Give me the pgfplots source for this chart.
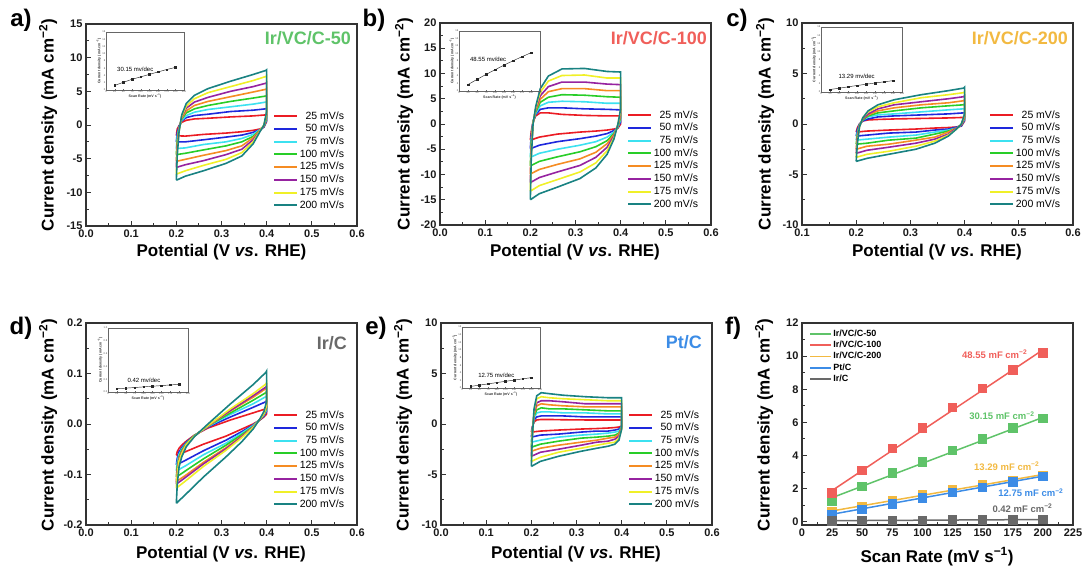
\documentclass[border=0pt]{standalone}
\usepackage{fontspec}
\setmainfont{Liberation Sans}
\usepackage{pgfplots}
\usepackage{pgfplotstable}
\pgfplotsset{compat=1.18}

\definecolor{c1}{RGB}{235,28,36}
\definecolor{c2}{RGB}{30,40,220}
\definecolor{c3}{RGB}{60,225,240}
\definecolor{c4}{RGB}{40,205,40}
\definecolor{c5}{RGB}{245,140,35}
\definecolor{c6}{RGB}{150,35,160}
\definecolor{c7}{RGB}{240,240,40}
\definecolor{c8}{RGB}{25,130,130}
\definecolor{tg}{RGB}{95,195,105}
\definecolor{tr}{RGB}{240,95,90}
\definecolor{ty}{RGB}{242,185,65}
\definecolor{tk}{RGB}{105,105,105}
\definecolor{tb}{RGB}{60,140,230}

\pgfplotstableread{
x y1 y2 y3 y4 y5 y6 y7 y8
0.200 -1.6 -2.5 -3.5 -4.4 -5.4 -6.3 -7.3 -8.2
0.202 -0.6 -1.2 -1.7 -2.3 -2.8 -3.4 -3.9 -4.5
0.206 -0.1 -0.2 -0.4 -0.5 -0.6 -0.7 -0.9 -1.0
0.212 0.4 0.6 0.7 0.9 1.0 1.2 1.3 1.5
0.222 0.7 1.1 1.4 1.8 2.1 2.5 2.8 3.2
0.240 0.9 1.4 1.9 2.4 2.9 3.4 3.9 4.4
0.270 1.0 1.6 2.3 2.9 3.5 4.1 4.8 5.4
0.320 1.2 2.0 2.7 3.5 4.2 5.0 5.7 6.5
0.370 1.35 2.2 3.1 4.0 4.9 5.7 6.6 7.5
0.398 1.5 2.4 3.4 4.3 5.3 6.2 7.2 8.1
0.400 1.6 2.5 3.5 4.4 5.4 6.3 7.3 8.2
0.400 0.5 0.7 0.9 1.1 1.4 1.6 1.8 2.0
0.394 -0.3 -0.3 -0.2 -0.2 -0.1 -0.1 0.0 0.0
0.385 -0.6 -0.7 -0.7 -0.8 -0.8 -0.9 -0.9 -1.0
0.370 -0.8 -1.1 -1.4 -1.7 -1.9 -2.2 -2.5 -2.8
0.345 -1.0 -1.5 -2.0 -2.5 -3.1 -3.6 -4.1 -4.6
0.310 -1.2 -1.8 -2.5 -3.1 -3.8 -4.4 -5.1 -5.7
0.260 -1.4 -2.2 -2.9 -3.7 -4.5 -5.3 -6.0 -6.8
0.220 -1.65 -2.5 -3.4 -4.2 -5.1 -5.9 -6.8 -7.6
0.200 -1.6 -2.5 -3.5 -4.4 -5.4 -6.3 -7.3 -8.2
}\tabA

\pgfplotstableread{
x y1 y2 y3 y4 y5 y6 y7 y8
0.200 -3.2 -4.9 -6.6 -8.3 -9.9 -11.6 -13.3 -15.0
0.202 -1.5 -2.3 -3.1 -3.9 -4.6 -5.4 -6.2 -7.0
0.206 0.5 0.4 0.4 0.3 0.2 0.1 0.1 0.0
0.212 1.6 1.9 2.1 2.4 2.7 3.0 3.2 3.5
0.222 2.2 2.9 3.6 4.3 4.9 5.6 6.3 7.0
0.240 2.2 3.2 4.3 5.3 6.4 7.4 8.5 9.5
0.270 1.9 3.2 4.5 5.8 7.0 8.3 9.6 10.9
0.320 1.7 3.0 4.4 5.7 7.0 8.3 9.7 11.0
0.370 1.6 2.9 4.1 5.4 6.6 7.9 9.1 10.4
0.398 1.6 2.8 4.1 5.3 6.6 7.8 9.1 10.3
0.400 1.6 2.8 4.1 5.3 6.6 7.8 9.1 10.3
0.400 0.0 0.4 0.9 1.3 1.7 2.1 2.6 3.0
0.394 -0.8 -0.7 -0.6 -0.5 -0.3 -0.2 -0.1 0.0
0.385 -1.0 -1.3 -1.6 -1.9 -2.1 -2.4 -2.7 -3.0
0.370 -1.2 -1.9 -2.6 -3.3 -3.9 -4.6 -5.3 -6.0
0.345 -1.4 -2.4 -3.5 -4.5 -5.6 -6.6 -7.7 -8.7
0.310 -1.6 -2.9 -4.2 -5.5 -6.9 -8.2 -9.5 -10.8
0.260 -2.0 -3.5 -5.0 -6.5 -8.0 -9.5 -11.0 -12.5
0.220 -2.6 -4.2 -5.8 -7.4 -9.0 -10.6 -12.2 -13.8
0.200 -3.2 -4.9 -6.6 -8.3 -9.9 -11.6 -13.3 -15.0
}\tabB

\pgfplotstableread{
x y1 y2 y3 y4 y5 y6 y7 y8
0.200 -0.8 -1.2 -1.6 -2.0 -2.5 -2.9 -3.3 -3.7
0.202 -0.4 -0.6 -0.9 -1.1 -1.3 -1.5 -1.8 -2.0
0.206 0.0 0.0 -0.1 -0.1 -0.2 -0.2 -0.3 -0.3
0.212 0.3 0.3 0.4 0.4 0.5 0.5 0.6 0.6
0.222 0.4 0.5 0.7 0.8 0.9 1.0 1.2 1.3
0.240 0.45 0.7 0.9 1.1 1.3 1.5 1.7 1.9
0.270 0.5 0.8 1.0 1.3 1.6 1.9 2.1 2.4
0.320 0.55 0.9 1.2 1.6 1.9 2.2 2.6 2.9
0.370 0.6 1.0 1.4 1.8 2.1 2.5 2.9 3.3
0.398 0.65 1.1 1.5 1.9 2.3 2.7 3.1 3.55
0.400 0.7 1.1 1.5 2.0 2.4 2.8 3.2 3.65
0.400 0.3 0.4 0.5 0.6 0.7 0.8 0.9 1.0
0.394 -0.2 -0.2 -0.1 -0.1 -0.1 -0.1 0.0 0.0
0.385 -0.3 -0.3 -0.4 -0.4 -0.4 -0.4 -0.5 -0.5
0.370 -0.35 -0.5 -0.6 -0.7 -0.8 -1.0 -1.1 -1.2
0.345 -0.4 -0.6 -0.8 -1.0 -1.3 -1.5 -1.7 -1.9
0.310 -0.5 -0.8 -1.1 -1.4 -1.6 -1.9 -2.2 -2.5
0.260 -0.6 -0.9 -1.3 -1.6 -2.0 -2.3 -2.7 -3.0
0.220 -0.7 -1.1 -1.5 -1.9 -2.2 -2.6 -3.0 -3.4
0.200 -0.8 -1.2 -1.6 -2.0 -2.5 -2.9 -3.3 -3.7
}\tabC

\pgfplotstableread{
x y1 y2 y3 y4 y5 y6 y7 y8
0.200 -0.062 -0.081 -0.093 -0.105 -0.114 -0.119 -0.127 -0.157
0.202 -0.055 -0.068 -0.076 -0.084 -0.091 -0.094 -0.099 -0.120
0.206 -0.048 -0.055 -0.060 -0.065 -0.068 -0.070 -0.073 -0.085
0.212 -0.042 -0.047 -0.050 -0.052 -0.055 -0.056 -0.058 -0.065
0.222 -0.034 -0.036 -0.038 -0.039 -0.040 -0.041 -0.041 -0.045
0.240 -0.022 -0.023 -0.023 -0.023 -0.024 -0.024 -0.024 -0.025
0.270 -0.008 -0.006 -0.005 -0.004 -0.004 -0.003 -0.003 0.000
0.320 0.008 0.014 0.019 0.022 0.026 0.027 0.030 0.040
0.370 0.022 0.033 0.040 0.047 0.053 0.056 0.060 0.078
0.398 0.030 0.044 0.054 0.062 0.070 0.073 0.079 0.102
0.400 0.032 0.047 0.056 0.065 0.072 0.076 0.082 0.105
0.400 0.020 0.025 0.028 0.031 0.034 0.035 0.037 0.045
0.394 0.014 0.016 0.018 0.019 0.020 0.021 0.021 0.025
0.385 0.008 0.008 0.009 0.009 0.009 0.009 0.009 0.010
0.370 0.000 -0.002 -0.003 -0.005 -0.006 -0.006 -0.007 -0.010
0.345 -0.010 -0.015 -0.018 -0.021 -0.024 -0.025 -0.027 -0.035
0.310 -0.024 -0.032 -0.038 -0.042 -0.047 -0.049 -0.052 -0.065
0.260 -0.040 -0.053 -0.061 -0.069 -0.076 -0.079 -0.084 -0.105
0.220 -0.055 -0.072 -0.083 -0.093 -0.102 -0.106 -0.113 -0.140
0.200 -0.062 -0.081 -0.093 -0.105 -0.114 -0.119 -0.127 -0.157
}\tabD

\pgfplotstableread{
x y1 y2 y3 y4 y5 y6 y7 y8
0.200 -0.8 -1.3 -1.8 -2.3 -2.7 -3.2 -3.7 -4.2
0.202 -0.3 -0.5 -0.6 -0.8 -1.0 -1.2 -1.3 -1.5
0.206 0.2 0.4 0.6 0.8 0.9 1.1 1.3 1.5
0.212 0.4 0.7 1.1 1.4 1.8 2.1 2.5 2.8
0.222 0.45 0.8 1.2 1.6 2.0 2.3 2.7 3.1
0.240 0.45 0.8 1.2 1.5 1.9 2.3 2.6 3.0
0.270 0.42 0.8 1.1 1.5 1.8 2.2 2.5 2.85
0.320 0.4 0.7 1.1 1.4 1.7 2.0 2.4 2.7
0.370 0.4 0.7 1.0 1.3 1.7 2.0 2.3 2.6
0.398 0.4 0.7 1.0 1.3 1.7 2.0 2.3 2.6
0.400 0.4 0.7 1.0 1.3 1.7 2.0 2.3 2.6
0.400 -0.2 -0.2 -0.3 -0.3 -0.4 -0.4 -0.5 -0.5
0.394 -0.3 -0.5 -0.7 -0.9 -1.0 -1.2 -1.4 -1.6
0.385 -0.35 -0.6 -0.8 -1.1 -1.3 -1.5 -1.8 -2.0
0.370 -0.4 -0.7 -0.9 -1.2 -1.4 -1.7 -1.9 -2.2
0.345 -0.45 -0.7 -1.0 -1.3 -1.6 -1.8 -2.1 -2.4
0.310 -0.5 -0.8 -1.1 -1.4 -1.8 -2.1 -2.4 -2.7
0.260 -0.6 -1.0 -1.3 -1.7 -2.1 -2.5 -2.8 -3.2
0.220 -0.7 -1.1 -1.6 -2.0 -2.4 -2.8 -3.3 -3.7
0.200 -0.8 -1.3 -1.8 -2.3 -2.7 -3.2 -3.7 -4.2
}\tabE

\pgfplotsset{
  base/.style={scale only axis, width=271pt, height=202pt, anchor=north west,
    axis line style={line width=1.1pt, black!80},
    tick align=inside, xtick pos=left, ytick pos=left,
    major tick length=5pt, minor tick length=3pt,
    every tick/.style={black!80, line width=0.9pt},
    tick label style={font=\bfseries\fontsize{11}{13}\selectfont, text=black!90},
    minor x tick num=1, minor y tick num=1},
  cv/.style={base, xmin=0, xmax=0.6,
    xtick={0,0.1,0.2,0.3,0.4,0.5,0.6}, xticklabels={0.0,0.1,0.2,0.3,0.4,0.5,0.6},
    legend cell align=right,
    legend style={at={(0.97,0.585)}, anchor=north east, draw=none, fill=none,
      font=\fontsize{10.5}{10.5}\selectfont,
      nodes={text height=7.6pt, text depth=2.1pt, inner sep=1.5pt}, row sep=0pt},
    legend image code/.code={\draw[#1, line width=2pt] (0pt,0pt) -- (23pt,0pt);},
    every axis plot/.append style={line width=1.6pt}},
  inset/.style={scale only axis, anchor=north west, xmin=0, xmax=225, ymin=0,
    axis line style={line width=0.4pt, black!60},
    tick align=inside, xtick pos=left, ytick pos=left,
    xtick={0,25,50,75,100,125,150,175,200,225},
    major tick length=1.2pt, every tick/.style={line width=0.3pt, black!60},
    /pgf/number format/assume math mode=true,
    tick label style={font=\fontsize{2.6}{3}\selectfont, inner sep=0.5pt, text=black!70},
    xlabel={Scan Rate (mV s\textsuperscript{−1})},
    ylabel={Current density (mA cm\textsuperscript{−2})},
    label style={font=\bfseries\fontsize{3.6}{4}\selectfont, inner sep=0.5pt, text=black!80}},
  insetplot/.style={black!85, line width=0.45pt, mark=square*, mark size=0.75pt,
    mark options={fill=black!85, draw=black!85}},
}

\newcommand{\cvplots}[1]{%
  \addplot[c1] table[x=x,y=y1]{#1};
  \addplot[c2] table[x=x,y=y2]{#1};
  \addplot[c3] table[x=x,y=y3]{#1};
  \addplot[c4] table[x=x,y=y4]{#1};
  \addplot[c5] table[x=x,y=y5]{#1};
  \addplot[c6] table[x=x,y=y6]{#1};
  \addplot[c7] table[x=x,y=y7]{#1};
  \addplot[c8] table[x=x,y=y8]{#1};
  \legend{25 mV/s,50 mV/s,75 mV/s,100 mV/s,125 mV/s,150 mV/s,175 mV/s,200 mV/s}}

\newcommand{\ylab}{\textbf{Current density (mA cm\textsuperscript{−2})}}
\newcommand{\xlab}{\textbf{Potential (V \textit{vs}. RHE)}}

\begin{document}
\begin{tikzpicture}
\useasboundingbox (0pt,0pt) rectangle (1084pt,568pt);

% ---------- a ----------
\begin{axis}[cv, at={(86pt,544pt)}, ymin=-15, ymax=15,
  ytick={-15,-10,-5,0,5,10,15}, yticklabels={-15,-10,-5,0,5,10,15}]
\cvplots{\tabA}
\end{axis}
\begin{axis}[inset, at={(106pt,536pt)}, width=78pt, height=58pt, ymax=16,
  ytick={0,2,4,6,8,10,12,14,16}]
\addplot[insetplot] coordinates {(25,1.25)(50,2.12)(75,2.95)(100,3.62)(125,4.3)(150,4.98)(175,5.65)(200,6.22)};
\node[font=\fontsize{6}{7}\selectfont] at (rel axis cs:0.375,0.36) {30.15 mv/dec};
\end{axis}

% ---------- b ----------
\begin{axis}[cv, at={(440pt,545pt)}, ymin=-20, ymax=20,
  ytick={-20,-15,-10,-5,0,5,10,15,20}, yticklabels={-20,-15,-10,-5,0,5,10,15,20}]
\cvplots{\tabB}
\end{axis}
\begin{axis}[inset, at={(459pt,537pt)}, width=81pt, height=60pt, ymax=16,
  ytick={0,2,4,6,8,10,12,14,16}]
\addplot[insetplot] coordinates {(25,1.72)(50,3.08)(75,4.42)(100,5.65)(125,6.9)(150,8.05)(175,9.15)(200,10.2)};
\node[font=\fontsize{6}{7}\selectfont] at (rel axis cs:0.36,0.53) {48.55 mv/dec};
\end{axis}

% ---------- c ----------
\begin{axis}[cv, at={(802pt,545pt)}, xmin=0.1, xtick={0.1,0.2,0.3,0.4,0.5,0.6},
  xticklabels={0.1,0.2,0.3,0.4,0.5,0.6}, ymin=-10, ymax=10,
  ytick={-10,-5,0,5,10}, yticklabels={-10,-5,0,5,10}]
\cvplots{\tabC}
\end{axis}
\begin{axis}[inset, at={(821pt,541pt)}, width=81pt, height=65pt, ymax=16,
  ytick={0,2,4,6,8,10,12,14,16}]
\addplot[insetplot] coordinates {(25,0.62)(50,0.92)(75,1.27)(100,1.6)(125,1.9)(150,2.22)(175,2.5)(200,2.8)};
\node[font=\fontsize{6}{7}\selectfont] at (rel axis cs:0.44,0.24) {13.29 mv/dec};
\end{axis}

% ---------- d ----------
\begin{axis}[cv, at={(86pt,245pt)}, ymin=-0.2, ymax=0.2,
  ytick={-0.2,-0.1,0,0.1,0.2}, yticklabels={-0.2,-0.1,0.0,0.1,0.2}]
\cvplots{\tabD}
\end{axis}
\begin{axis}[inset, at={(108pt,240pt)}, width=80pt, height=64pt, ymax=1,
  ytick={0,0.2,0.4,0.6,0.8,1.0},
  yticklabel style={/pgf/number format/.cd, fixed, fixed zerofill, precision=1}]
\addplot[insetplot] coordinates {(25,0.05)(50,0.06)(75,0.07)(100,0.08)(125,0.09)(150,0.1)(175,0.11)(200,0.12)};
\node[font=\fontsize{6}{7}\selectfont] at (rel axis cs:0.45,0.18) {0.42 mv/dec};
\end{axis}

% ---------- e ----------
\begin{axis}[cv, at={(441pt,245pt)}, ymin=-10, ymax=10,
  ytick={-10,-5,0,5,10}, yticklabels={-10,-5,0,5,10}]
\cvplots{\tabE}
\end{axis}
\begin{axis}[inset, at={(462pt,241pt)}, width=78pt, height=61pt, ymax=16,
  ytick={0,2,4,6,8,10,12,14,16}]
\addplot[insetplot] coordinates {(25,0.42)(50,0.75)(75,1.08)(100,1.42)(125,1.75)(150,2.07)(175,2.4)(200,2.72)};
\node[font=\fontsize{6}{7}\selectfont] at (rel axis cs:0.44,0.2) {12.75 mv/dec};
\end{axis}

% ---------- f ----------
\begin{axis}[base, at={(802pt,245pt)}, xmin=0, xmax=225, ymin=-0.2, ymax=12,
  xtick={0,25,50,75,100,125,150,175,200,225},
  xticklabels={0,25,50,75,100,125,150,175,200,225},
  ytick={0,2,4,6,8,10,12}, yticklabels={0,2,4,6,8,10,12},
  legend cell align=left,
  legend style={at={(0.015,0.985)}, anchor=north west, draw=none, fill=none,
    font=\bfseries\fontsize{9}{9}\selectfont,
    nodes={text height=6.8pt, text depth=2pt, inner sep=1.25pt}, row sep=0pt},
  legend image code/.code={\draw[#1, line width=1.8pt] (0pt,0pt) -- (21pt,0pt);},
  every axis plot/.append style={line width=1.5pt}]
\addplot[tg] coordinates {(25,1.45)(200,6.3)};
\addplot[tr] coordinates {(25,1.88)(200,10.38)};
\addplot[ty] coordinates {(25,0.65)(200,2.85)};
\addplot[tb] coordinates {(25,0.45)(200,2.75)};
\addplot[tk] coordinates {(25,0.06)(200,0.13)};
\legend{Ir/VC/C-50,Ir/VC/C-100,Ir/VC/C-200,Pt/C,Ir/C}
\addplot[tg, only marks, mark=square*, mark size=4pt, forget plot] coordinates {(25,1.25)(50,2.12)(75,2.95)(100,3.62)(125,4.3)(150,4.98)(175,5.65)(200,6.22)};
\addplot[tr, only marks, mark=square*, mark size=4pt, forget plot] coordinates {(25,1.72)(50,3.08)(75,4.42)(100,5.65)(125,6.9)(150,8.05)(175,9.15)(200,10.2)};
\addplot[ty, only marks, mark=square*, mark size=4pt, forget plot] coordinates {(25,0.62)(50,0.92)(75,1.27)(100,1.6)(125,1.9)(150,2.22)(175,2.5)(200,2.8)};
\addplot[tb, only marks, mark=square*, mark size=4pt, forget plot] coordinates {(25,0.42)(50,0.75)(75,1.08)(100,1.42)(125,1.75)(150,2.07)(175,2.4)(200,2.72)};
\addplot[tk, only marks, mark=square*, mark size=4pt, forget plot] coordinates {(25,0.05)(50,0.06)(75,0.07)(100,0.08)(125,0.09)(150,0.1)(175,0.11)(200,0.12)};
\begin{scope}[font=\bfseries\fontsize{9.5}{10}\selectfont]
\node[text=tr] at (axis cs:160,10.1) {48.55 mF cm\textsuperscript{−2}};
\node[text=tg] at (axis cs:166,6.4) {30.15 mF cm\textsuperscript{−2}};
\node[text=ty] at (axis cs:170,3.35) {13.29 mF cm\textsuperscript{−2}};
\node[text=tb] at (axis cs:190,1.75) {12.75 mF cm\textsuperscript{−2}};
\node[text=tk] at (axis cs:183,0.8) {0.42 mF cm\textsuperscript{−2}};
\end{scope}
\end{axis}

% ---------- titles ----------
\begin{scope}[font=\bfseries\fontsize{18}{18}\selectfont]
\node[anchor=base east, text=tg, inner sep=0pt] at (351pt,523pt) {Ir/VC/C-50};
\node[anchor=base east, text=tr, inner sep=0pt] at (707pt,523pt) {Ir/VC/C-100};
\node[anchor=base east, text=ty, inner sep=0pt] at (1068pt,523pt) {Ir/VC/C-200};
\node[anchor=base east, text=tk, inner sep=0pt] at (347pt,218pt) {Ir/C};
\node[anchor=base east, text=tb, inner sep=0pt] at (702pt,219pt) {Pt/C};
\end{scope}

% ---------- panel letters ----------
\begin{scope}[font=\bfseries\fontsize{24}{24}\selectfont]
\node at (21pt,548pt) {a)};
\node at (374pt,548pt) {b)};
\node at (737pt,548pt) {c)};
\node at (21pt,240pt) {d)};
\node at (376pt,240pt) {e)};
\node at (733pt,240pt) {f)};
\end{scope}

% ---------- axis labels ----------
\begin{scope}[font=\fontsize{17}{17}\selectfont]
\node[rotate=90] at (48pt,443pt) {\ylab};
\node[rotate=90] at (404pt,444pt) {\ylab};
\node[rotate=90] at (765pt,444pt) {\ylab};
\node[rotate=90] at (48pt,143pt) {\ylab};
\node[rotate=90] at (403pt,143pt) {\ylab};
\node[rotate=90] at (764pt,143pt) {\ylab};
\node[anchor=base] at (221.5pt,311pt) {\xlab};
\node[anchor=base] at (575pt,311pt) {\xlab};
\node[anchor=base] at (937pt,311pt) {\xlab};
\node[anchor=base] at (221pt,10pt) {\xlab};
\node[anchor=base] at (576pt,10pt) {\xlab};
\node[anchor=base] at (937pt,6pt) {\textbf{Scan Rate (mV s\textsuperscript{−1})}};
\end{scope}
\end{tikzpicture}
\end{document}
